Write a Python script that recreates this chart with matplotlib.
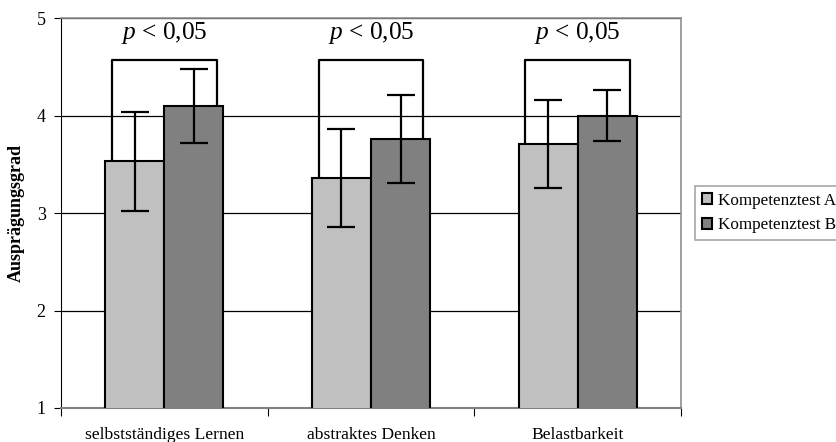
import numpy as np
import matplotlib
matplotlib.use('Agg')
import matplotlib.pyplot as plt

plt.rcParams['font.family'] = ['Liberation Serif', 'DejaVu Serif']
plt.rcParams['mathtext.fontset'] = 'custom'
plt.rcParams['mathtext.rm'] = 'Liberation Serif'
plt.rcParams['mathtext.it'] = 'Liberation Serif:italic'

# Daten
kategorien = ['selbstständiges Lernen', 'abstraktes Denken', 'Belastbarkeit']
test_a = [3.53, 3.36, 3.71]
test_b = [4.10, 3.76, 4.00]
fehler_a = [0.51, 0.50, 0.45]
fehler_b = [0.38, 0.45, 0.26]
klammer_hoehe = [4.57, 4.57, 4.57]
p_text = ['$p$ < 0,05'] * 3

fig = plt.figure(figsize=(8.37, 4.42), dpi=100)
ax = fig.add_axes([61/837, 1 - 408/442, 620/837, 390/442])

x = np.arange(len(kategorien))
b = 0.2855

ax.bar(x - b/2, test_a, b, bottom=0, color='#c0c0c0', edgecolor='black',
       linewidth=1.5, label='Kompetenztest A', zorder=3)
ax.bar(x + b/2, test_b, b, bottom=0, color='#808080', edgecolor='black',
       linewidth=1.5, label='Kompetenztest B', zorder=3)
ax.errorbar(x - b/2, test_a, yerr=fehler_a, fmt='none', ecolor='black',
            elinewidth=1.6, capsize=10, capthick=1.6, zorder=4)
ax.errorbar(x + b/2, test_b, yerr=fehler_b, fmt='none', ecolor='black',
            elinewidth=1.6, capsize=10, capthick=1.6, zorder=4)

# Signifikanzklammern
for i in range(len(kategorien)):
    xl = x[i] - 0.253
    xr = x[i] + 0.253
    ax.plot([xl, xl, xr, xr], [test_a[i], klammer_hoehe[i], klammer_hoehe[i], test_b[i]],
            color='black', linewidth=1.6, zorder=2)
    ax.text(x[i], 4.85, p_text[i], ha='center', va='center', fontsize=18.3)

ax.set_xlim(-0.5, 2.5)
ax.set_ylim(1, 5)
ax.set_yticks([1, 2, 3, 4, 5])
ax.set_yticklabels(['1', '2', '3', '4', '5'], fontsize=13)
ax.set_xticks([-0.5, 0.5, 1.5, 2.5])
ax.set_xticklabels([])
ax.set_xticks(x, minor=True)
ax.set_xticklabels(kategorien, minor=True, fontsize=12.6)
ax.tick_params(axis='x', which='major', length=6, direction='out', color='black')
ax.tick_params(axis='x', which='minor', length=0, pad=14)
ax.tick_params(axis='y', length=5, direction='out', pad=6)
ax.yaxis.grid(True, color='black', linewidth=0.9, zorder=0)
ax.set_axisbelow(True)

ax.spines['left'].set_color('black')
ax.spines['bottom'].set_color('#808080')
ax.spines['bottom'].set_linewidth(1.5)
ax.spines['top'].set_color('#909090')
ax.spines['top'].set_linewidth(1.2)
ax.spines['right'].set_color('#909090')
ax.spines['right'].set_linewidth(1.2)

ax.set_ylabel('Ausprägungsgrad', fontsize=13, fontweight='bold')
ax.yaxis.set_label_coords(-(61 - 25) / 620, 0.5)

leg = fig.legend(loc='upper left', bbox_to_anchor=(695/837, 1 - 186/442),
                 fontsize=12.3, frameon=True, fancybox=False, borderaxespad=0,
                 handlelength=0.6, handleheight=0.6, handletextpad=0.36,
                 labelspacing=0.5, borderpad=0.4)
leg.get_frame().set_edgecolor('#909090')
leg.get_frame().set_linewidth(1.2)

fig.savefig('out.png', dpi=100)
